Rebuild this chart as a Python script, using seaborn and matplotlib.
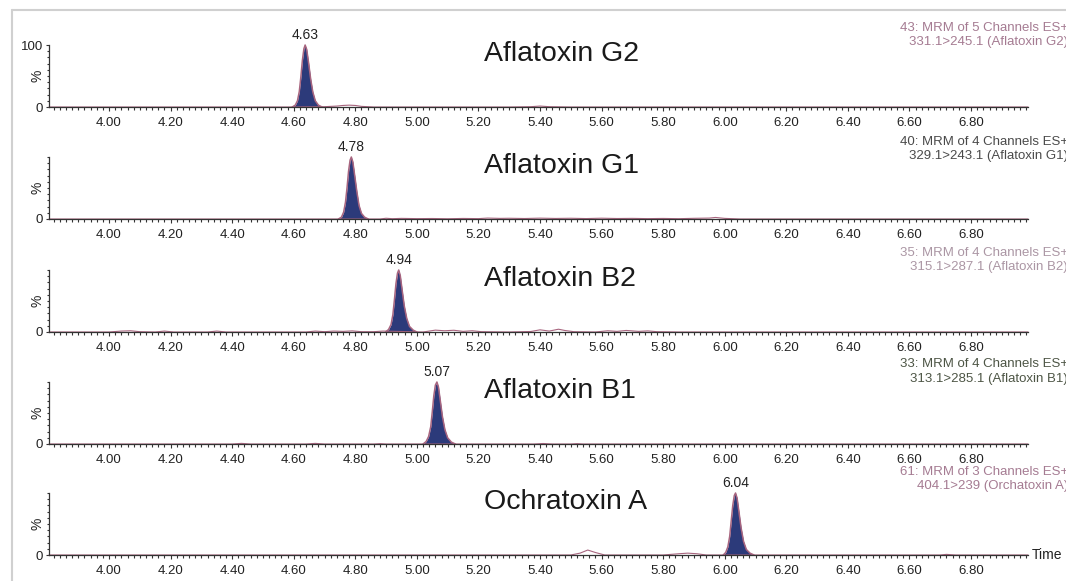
import matplotlib
matplotlib.use("Agg")
import matplotlib.pyplot as plt
import seaborn as sns
from matplotlib.ticker import MultipleLocator
from matplotlib.lines import Line2D

# ---------------- data ----------------
compounds = ["Aflatoxin G2", "Aflatoxin G1", "Aflatoxin B2", "Aflatoxin B1", "Ochratoxin A"]
peak_labels = ["4.63", "4.78", "4.94", "5.07", "6.04"]
info_line1 = ["43: MRM of 5 Channels ES+", "40: MRM of 4 Channels ES+",
              "35: MRM of 4 Channels ES+", "33: MRM of 4 Channels ES+",
              "61: MRM of 3 Channels ES+"]
info_line2 = ["331.1>245.1 (Aflatoxin G2)", "329.1>243.1 (Aflatoxin G1)",
              "315.1>287.1 (Aflatoxin B2)", "313.1>285.1 (Aflatoxin B1)",
              "404.1>239 (Orchatoxin A)"]
xtick_labels = ["4.00", "4.20", "4.40", "4.60", "4.80", "5.00", "5.20", "5.40",
                "5.60", "5.80", "6.00", "6.20", "6.40", "6.60", "6.80"]

# main (integrated) peaks: retention time (min) vs intensity (%)
g2_peak_t = [4.595, 4.605, 4.612, 4.618, 4.623, 4.628, 4.633, 4.637, 4.642, 4.648, 4.655, 4.662, 4.670, 4.680, 4.692]
g2_peak_y = [0, 3, 10, 25, 48, 75, 94, 100, 93, 72, 45, 24, 10, 3, 0]
g1_peak_t = [4.745, 4.755, 4.762, 4.768, 4.773, 4.778, 4.783, 4.787, 4.792, 4.798, 4.805, 4.812, 4.820, 4.830, 4.842]
g1_peak_y = [0, 3, 11, 27, 50, 77, 95, 100, 92, 70, 44, 22, 9, 3, 0]
b2_peak_t = [4.898, 4.908, 4.916, 4.922, 4.927, 4.932, 4.937, 4.941, 4.946, 4.952, 4.959, 4.967, 4.976, 4.988, 5.000]
b2_peak_y = [0, 4, 12, 28, 52, 78, 95, 100, 91, 68, 42, 22, 9, 3, 0]
b1_peak_t = [5.020, 5.030, 5.038, 5.045, 5.050, 5.055, 5.060, 5.065, 5.070, 5.076, 5.083, 5.091, 5.100, 5.112, 5.125]
b1_peak_y = [0, 4, 12, 28, 52, 78, 95, 100, 92, 70, 44, 23, 10, 3, 0]
oa_peak_t = [5.995, 6.003, 6.010, 6.016, 6.021, 6.026, 6.031, 6.035, 6.040, 6.046, 6.053, 6.061, 6.070, 6.082, 6.095]
oa_peak_y = [0, 4, 13, 30, 55, 80, 96, 100, 92, 70, 44, 22, 9, 3, 0]

# baseline traces (minor bumps / noise)
g2_base_t = [3.805, 4.00, 4.30, 4.58, 4.70, 4.74, 4.76, 4.78, 4.80, 4.82, 4.86, 5.30, 5.37, 5.40, 5.43, 5.50, 6.985]
g2_base_y = [0, 0, 0, 0, 0.5, 1.5, 2.5, 3.0, 2.5, 1.0, 0, 0, 0.5, 1.5, 0.5, 0, 0]
g1_base_t = [3.805, 4.70, 4.88, 4.90, 4.92, 4.95, 5.00, 5.05, 5.10, 5.15, 5.20, 5.23, 5.27, 5.30, 5.35,
             5.40, 5.45, 5.50, 5.55, 5.60, 5.65, 5.70, 5.75, 5.80, 5.85, 5.90, 5.95, 5.97, 6.00, 6.05, 6.985]
g1_base_y = [0, 0, 0, 1.2, 0.5, 1.0, 0.6, 0.8, 0.4, 0.9, 0.6, 1.5, 1.0, 1.2, 0.8,
             1.4, 0.9, 1.2, 0.7, 1.3, 0.8, 1.0, 0.6, 0.9, 0.5, 1.1, 1.5, 2.5, 1.0, 0, 0]
b2_base_t = [3.805, 4.00, 4.04, 4.07, 4.10, 4.15, 4.18, 4.21, 4.32, 4.35, 4.38, 4.64, 4.67, 4.70, 4.73,
             4.76, 4.79, 4.82, 4.86, 4.89, 5.02, 5.06, 5.09, 5.12, 5.15, 5.18, 5.21, 5.30, 5.37, 5.40,
             5.43, 5.46, 5.48, 5.51, 5.58, 5.62, 5.65, 5.68, 5.72, 5.75, 5.78, 5.85, 6.985]
b2_base_y = [0, 0, 1.5, 2.0, 0.5, 0, 1.5, 0, 0, 1.5, 0, 0, 1.5, 0.5, 1.5,
             1.0, 1.8, 0.5, 0.5, 1.5, 0, 3.0, 2.0, 2.8, 1.0, 2.0, 0.5, 0, 0.8, 3.5,
             1.5, 4.5, 2.5, 0.5, 0, 2.0, 1.0, 2.5, 1.0, 1.8, 0.5, 0, 0]
b1_base_t = [3.805, 4.40, 4.43, 4.46, 4.64, 4.67, 4.70, 4.86, 4.88, 4.90, 5.38, 5.41, 5.44, 5.50, 5.52, 5.54, 6.985]
b1_base_y = [0, 0, 1.0, 0, 0, 1.0, 0, 0, 0.6, 0, 0, 0.8, 0, 0, 0.6, 0, 0]
oa_base_t = [3.805, 5.50, 5.53, 5.555, 5.58, 5.61, 5.80, 5.85, 5.88, 5.91, 5.94, 6.70, 6.72, 6.75, 6.985]
oa_base_y = [0, 0, 3, 8, 4, 0, 0, 2, 3, 2, 0, 0, 1, 0, 0]

peaks_t = [g2_peak_t, g1_peak_t, b2_peak_t, b1_peak_t, oa_peak_t]
peaks_y = [g2_peak_y, g1_peak_y, b2_peak_y, b1_peak_y, oa_peak_y]
bases_t = [g2_base_t, g1_base_t, b2_base_t, b1_base_t, oa_base_t]
bases_y = [g2_base_y, g1_base_y, b2_base_y, b1_base_y, oa_base_y]

info_colors = ["#a57b92", "#4a4a4a", "#ab96a4", "#4d5545", "#a57b92"]

# ---------------- style / layout ----------------
sns.set_style("white")
plt.rcParams["font.family"] = ["Liberation Sans", "DejaVu Sans"]

W, H = 1066, 581
fig = plt.figure(figsize=(W / 100, H / 100), dpi=100)

baseline_px = [107, 219, 332, 444, 555]
info_off_px = [(79, 65), (77, 63), (79, 65), (80, 65), (83, 69)]
left_px, right_px, axh_px = 49, 1028, 62
xmin, xmax = 3.805, 6.985

navy = "#2c3a7a"
mauve = "#a8657f"
tick_vals = [float(s) for s in xtick_labels]

for i in range(5):
    b = baseline_px[i]
    ax = fig.add_axes([left_px / W, 1 - b / H, (right_px - left_px) / W, axh_px / H])
    ax.set_xlim(xmin, xmax)
    ax.set_ylim(0, 100)

    sns.lineplot(x=bases_t[i], y=bases_y[i], ax=ax, color=mauve, lw=0.8,
                 estimator=None, sort=False, clip_on=False)
    ax.fill_between(peaks_t[i], peaks_y[i], 0, color=navy, lw=0, clip_on=False)
    sns.lineplot(x=peaks_t[i], y=peaks_y[i], ax=ax, color=mauve, lw=1.1,
                 estimator=None, sort=False, clip_on=False)

    apex = peaks_t[i][peaks_y[i].index(max(peaks_y[i]))]
    ax.annotate(peak_labels[i], xy=(apex, 100), xytext=(0, 2), textcoords="offset points",
                ha="center", va="bottom", fontsize=10, color="#222222")

    for s in ["top", "right"]:
        ax.spines[s].set_visible(False)
    ax.spines["left"].set_bounds(0, 100)
    for s in ["left", "bottom"]:
        ax.spines[s].set_color("#333333")
        ax.spines[s].set_linewidth(0.9)

    ax.set_xticks(tick_vals, xtick_labels)
    ax.xaxis.set_minor_locator(MultipleLocator(0.02))
    if i == 0:
        ax.set_yticks([0, 100], ["0", "100"])
    else:
        ax.set_yticks([0], ["0"])
    ax.yaxis.set_minor_locator(MultipleLocator(10))
    ax.tick_params(axis="both", which="both", bottom=True, left=True, direction="out",
                   color="#333333", width=0.8)
    ax.tick_params(axis="x", which="major", length=3, pad=4, labelsize=9.5, labelcolor="#222222")
    ax.tick_params(axis="x", which="minor", length=2)
    ax.tick_params(axis="y", which="major", length=2.5, pad=2, labelsize=9.5, labelcolor="#222222")
    ax.tick_params(axis="y", which="minor", length=1.8)
    ax.set_xlabel("")
    ax.set_ylabel("")

    fig.text(37 / W, 1 - (b - 31) / H, "%", rotation=90, ha="center", va="center",
             fontsize=10, color="#222222")
    fig.text(484 / W, 1 - (b - 53) / H, compounds[i], ha="left", va="center",
             fontsize=20.5, color="#1a1a1a")
    o1, o2 = info_off_px[i]
    fig.text(1068 / W, 1 - (b - o1) / H, info_line1[i], ha="right", va="center",
             fontsize=9.5, color=info_colors[i])
    fig.text(1068 / W, 1 - (b - o2) / H, info_line2[i], ha="right", va="center",
             fontsize=9.5, color=info_colors[i])

fig.text(1032 / W, 1 - 555 / H, "Time", ha="left", va="center", fontsize=10, color="#222222")

# light frame of the scanned page
fig.add_artist(Line2D([12 / W, 1.0], [1 - 10 / H, 1 - 10 / H], transform=fig.transFigure,
                      color="#d0d0d0", lw=1.5))
fig.add_artist(Line2D([12 / W, 12 / W], [1 - 10 / H, 0.0], transform=fig.transFigure,
                      color="#d0d0d0", lw=1.5))

fig.savefig("out.png", dpi=100)
